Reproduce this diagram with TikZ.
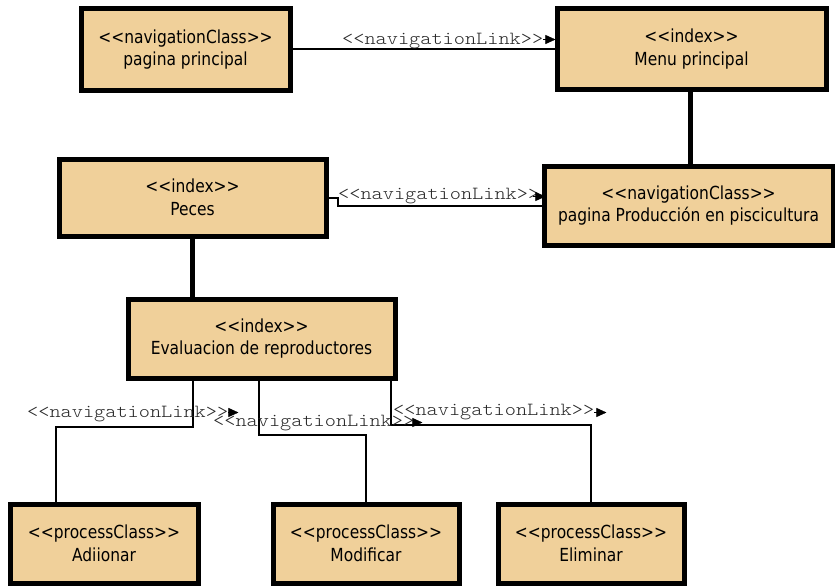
\documentclass[tikz,border=0pt]{standalone}
\usepackage{fontspec}
\usepackage{tikz}
\usetikzlibrary{arrows.meta, calc}
\newfontfamily\boxfont{DejaVu Sans}[FakeStretch=0.86]
\newfontfamily\linkfont{lmmonolt10-regular.otf}[FakeStretch=1.15]
\definecolor{classfill}{RGB}{240,208,154}

\tikzset{
	cls/.style={draw, line width=5pt, fill=classfill, align=center, inner sep=0pt,
		font=\boxfont\fontsize{18}{22.5}\selectfont},
	lnk/.style={font=\linkfont\fontsize{18.5}{20}\selectfont, text=black!85, inner sep=0pt, anchor=west},
	conn/.style={line width=2pt},
	hier/.style={line width=5pt},
	tip/.style={-{Triangle[length=10pt,width=9pt]}, line width=0.4pt}
}

\begin{document}
\begin{tikzpicture}[x=1pt, y=-1pt]
	\useasboundingbox (0,0) rectangle (835,586);

	% classes
	\node[cls, minimum width=209pt, minimum height=81pt] (pp) at (185.5,49.5) {<<navigationClass>>\\pagina principal};
	\node[cls, minimum width=269pt, minimum height=80pt] (menu) at (691.5,49) {<<index>>\\Menu principal};
	\node[cls, minimum width=267pt, minimum height=77pt] (peces) at (192.5,197.5) {<<index>>\\Peces};
	\node[cls, minimum width=289pt, minimum height=79pt] (prod) at (688.5,205.5) {<<navigationClass>>\\pagina Producción en piscicultura};
	\node[cls, minimum width=267pt, minimum height=79pt] (eval) at (261.5,338.5) {<<index>>\\Evaluacion de reproductores};

	% process classes
	\node[cls, minimum width=188pt, minimum height=79pt] (add) at (104,543.5) {<<processClass>>\\Adiionar};
	\node[cls, minimum width=186pt, minimum height=79pt] (mod) at (366,543.5) {<<processClass>>\\Modificar};
	\node[cls, minimum width=186pt, minimum height=79pt] (elim) at (591,543.5) {<<processClass>>\\Eliminar};

	% hierarchy
	\draw[hier] ([xshift=-1.5pt]menu.south) -- ([xshift=1.5pt]prod.north);
	\draw[hier] (peces.south) -- ([xshift=67pt]eval.north west);

	% navigation links
	\draw[conn] (pp.east) -- ++(50,0) |- (menu.west);
	\draw[conn] (peces.east) -- ++(9,0) |- (prod.west);
	\draw[conn] ([xshift=67pt]eval.south west) -- ++(0,46) -| ([xshift=48pt]add.north west);
	\draw[conn] ([xshift=133pt]eval.south west) -- ++(0,54) -| (mod.north);
	\draw[conn] ([xshift=265pt]eval.south west) -- ++(0,44) -| (elim.north);

	% link labels
	\node[lnk] (lnkA) at (342,41.5) {<<navigationLink>>};
	\node[lnk] (lnkB) at (338,196.5) {<<navigationLink>>};
	\node[lnk] (lnkC) at (27,414.5) {<<navigationLink>>};
	\node[lnk] (lnkD) at (213,423.5) {<<navigationLink>>};
	\node[lnk] (lnkE) at (393,412.5) {<<navigationLink>>};
	\draw[tip] ([yshift=2pt]lnkA.east) -- ++(12,0);
	\draw[tip] ([xshift=-6pt]lnkB.east) -- ++(12,0);
	\draw[tip] ([yshift=2pt]lnkC.east) -- ++(10,0);
	\draw[tip] ([yshift=1pt]lnkD.east) -- ++(8,0);
	\draw[tip] (lnkE.east) -- ++(12,0);
\end{tikzpicture}
\end{document}
